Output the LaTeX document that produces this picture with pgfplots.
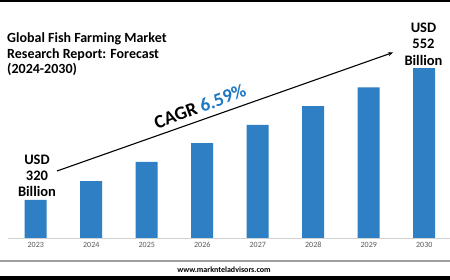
\documentclass[border=0pt]{standalone}
\usepackage{pgfplots}
\pgfplotsset{compat=1.18}
\usepackage{fontspec}
\setmainfont{Carlito}
\usetikzlibrary{arrows.meta}
\definecolor{barblue}{HTML}{2E7FC4}
\definecolor{cagrblue}{HTML}{1F78C4}
\definecolor{tickgray}{HTML}{595959}
\begin{document}
\begin{tikzpicture}[x=1pt,y=1pt]
\useasboundingbox (0,0) rectangle (450,280);
\clip (0,0) rectangle (450,280);
\fill[white] (0,0) rectangle (450,280);
\fill[black] (0,278) rectangle (450,280);
\fill[black] (0,0) rectangle (450,4);
\fill[gray!75] (0,17.5) rectangle (450,20);
\node[font=\bfseries\fontsize{8}{9}\selectfont, anchor=center] at (224,10) {www.marknteladvisors.com};
\begin{axis}[
  scale only axis,
  width=444pt, height=200pt,
  at={(8pt,42pt)}, anchor=south west,
  xmin=-0.5, xmax=7.5,
  ymin=253, ymax=605,
  axis y line=none,
  axis x line*=bottom,
  x axis line style={draw=gray!35, line width=0.8pt},
  xtick={0,...,7},
  xticklabels={2023,2024,2025,2026,2027,2028,2029,2030},
  major tick length=0pt,
  xticklabel style={font=\fontsize{8}{9}\selectfont, text=tickgray, yshift=-1pt},
  clip=false,
]
\addplot[ybar, bar width=22pt, fill=barblue, draw=none] coordinates {
  (0,320) (1,353) (2,387) (3,420) (4,452) (5,485) (6,518) (7,552)
};
\end{axis}
\draw[black, line width=1.1pt, -{Stealth[length=5pt,width=4pt]}] (57,109) -- (393,227.5);
\node[font=\bfseries\fontsize{19}{20}\selectfont, rotate=20.5, anchor=center] at (200,173.5) {CAGR \textcolor{cagrblue}{6.59\%}};
\begin{scope}[every node/.style={font=\bfseries\fontsize{14.5}{16}\selectfont, anchor=base}]
\node at (37,115) {USD};
\node at (37,99) {320};
\node at (37,83) {Billion};
\node at (423.5,247) {USD};
\node at (423.5,231) {552};
\node at (423.5,214.5) {Billion};
\end{scope}
\begin{scope}[every node/.style={font=\bfseries\fontsize{14}{15.5}\selectfont, anchor=base west, inner sep=0pt}]
\node at (7,237) {Global Fish Farming Market};
\node at (7,221.5) {Research Report: Forecast};
\node at (7,206) {(2024-2030)};
\end{scope}
\end{tikzpicture}
\end{document}
